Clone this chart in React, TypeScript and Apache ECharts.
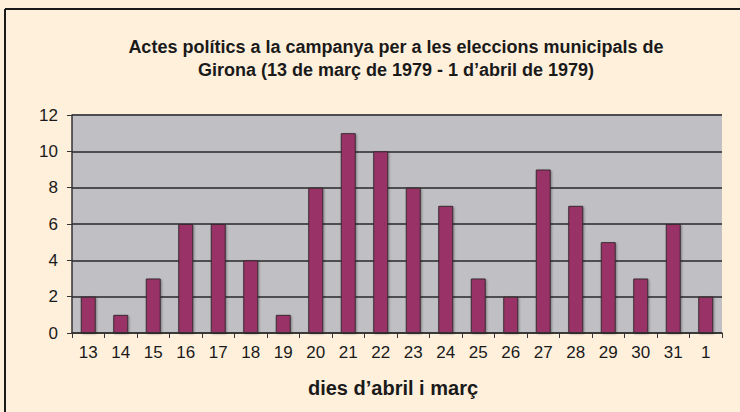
import React, { useEffect, useRef } from "react";
import * as echarts from "echarts";

const titleLines = [
  "Actes polítics a la campanya per a les eleccions municipals de",
  "Girona (13 de març de 1979 - 1 d’abril de 1979)",
];
const xAxisName = "dies d’abril i març";
const days = ["13", "14", "15", "16", "17", "18", "19", "20", "21", "22", "23", "24", "25", "26", "27", "28", "29", "30", "31", "1"];
const acts = [2, 1, 3, 6, 6, 4, 1, 8, 11, 10, 8, 7, 3, 2, 9, 7, 5, 3, 6, 2];

export default function App() {
  const ref = useRef<HTMLDivElement>(null);
  useEffect(() => {
    if (!ref.current) return;
    const chart = echarts.init(ref.current, null, { renderer: "svg" });
    chart.setOption({
      animation: false,
      backgroundColor: "#fff0dc",
      textStyle: { fontFamily: "Liberation Sans, Arial, sans-serif" },
      title: {
        text: titleLines.join("\n"),
        left: 391,
        textAlign: "center",
        top: 30,
        textStyle: { fontSize: 18, fontWeight: "bold", color: "#1a1a1a", lineHeight: 23 },
      },
      graphic: [
        { type: "line", shape: { x1: 5, y1: 9, x2: 740, y2: 9 }, style: { stroke: "#1a1a1a", lineWidth: 2 } },
        { type: "line", shape: { x1: 5, y1: 9, x2: 5, y2: 412 }, style: { stroke: "#1a1a1a", lineWidth: 2 } },
      ],
      grid: {
        left: 72,
        right: 18,
        top: 115,
        bottom: 79,
        show: true,
        backgroundColor: "#c0c0c4",
        borderWidth: 0,
      },
      xAxis: {
        type: "category",
        data: days,
        name: xAxisName,
        nameLocation: "middle",
        nameGap: 45,
        nameTextStyle: { fontSize: 20, fontWeight: "bold", color: "#1a1a1a", padding: [0, 8, 0, 0] },
        axisLine: { show: true, lineStyle: { color: "#333", width: 1.5 } },
        axisTick: { show: true, length: 5, lineStyle: { color: "#333" } },
        axisLabel: { fontSize: 17, color: "#1a1a1a", margin: 11 },
      },
      yAxis: {
        type: "value",
        min: 0,
        max: 12,
        interval: 2,
        axisLine: { show: true, lineStyle: { color: "#333", width: 1.5 } },
        axisTick: { show: true, length: 5, lineStyle: { color: "#333" } },
        axisLabel: { fontSize: 17, color: "#1a1a1a", margin: 14 },
        splitLine: { show: true, lineStyle: { color: "#4e4e50", width: 2 } },
      },
      series: [
        {
          type: "bar",
          data: acts,
          barWidth: "46%",
          itemStyle: {
            color: "#993366",
            borderColor: "#3a2a30",
            borderWidth: 1,
            shadowColor: "rgba(0,0,0,0.35)",
            shadowOffsetX: 1,
            shadowOffsetY: 1,
            shadowBlur: 2,
          },
        },
      ],
    });
    return () => chart.dispose();
  }, []);
  return <div ref={ref} style={{ width: 740, height: 412, position: "fixed", left: 0, top: 0 }} />;
}
